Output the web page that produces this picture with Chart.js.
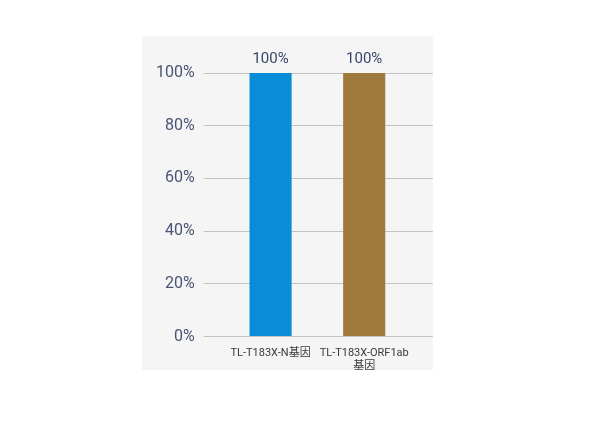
<!DOCTYPE html>
<html>
<head>
<meta charset="utf-8">
<script src="https://cdn.jsdelivr.net/npm/chart.js@4/dist/chart.umd.min.js"></script>
<style>
  html, body { margin: 0; padding: 0; background: #fff; }
  #box {
    position: absolute; left: 142px; top: 36px;
    width: 291px; height: 334px;
    overflow: hidden; background: #f5f5f5;
  }
  #chart { position: absolute; left: 0; top: 0; }
</style>
</head>
<body>
<div id="box"><canvas id="chart" width="309" height="347"></canvas></div>
<script>
// data
const categories = ['TL-T183X-N基因', ['TL-T183X-ORF1ab', '基因']];
const positiveRate = [100, 100];
const barColors = ['#0a8dd8', '#a07a3d'];
const yTicks = [0, 20, 40, 60, 80, 100];

const font = "Roboto, 'Noto Sans CJK SC', sans-serif";
const gridColor = '#c4c4c4';

// value labels above each bar
const valueLabels = {
  id: 'valueLabels',
  afterDatasetsDraw(chart) {
    const ctx = chart.ctx;
    const meta = chart.getDatasetMeta(0);
    ctx.save();
    ctx.font = '15px ' + font;
    ctx.fillStyle = '#38466a';
    ctx.textAlign = 'center';
    ctx.textBaseline = 'alphabetic';
    meta.data.forEach((bar, i) => {
      ctx.fillText(positiveRate[i] + '%', bar.x, bar.y - 10);
    });
    ctx.restore();
  }
};

new Chart(document.getElementById('chart').getContext('2d'), {
  type: 'bar',
  data: {
    labels: categories,
    datasets: [{
      data: positiveRate,
      backgroundColor: barColors,
      borderWidth: 0,
      barPercentage: 0.45,
      categoryPercentage: 1
    }]
  },
  options: {
    responsive: false,
    animation: false,
    layout: { padding: { left: 6, top: 37, right: 0, bottom: 0 } },
    plugins: { legend: { display: false }, tooltip: { enabled: false } },
    scales: {
      x: {
        grid: { display: false, drawTicks: false },
        border: { display: false },
        ticks: {
          color: '#3a3a3a', padding: 10, autoSkip: false, maxRotation: 0,
          font: { size: 11, family: font }
        }
      },
      y: {
        min: 0, max: 100,
        afterBuildTicks: (axis) => { axis.ticks = yTicks.map(v => ({ value: v })); },
        grid: { color: gridColor, tickColor: gridColor, tickLength: 20 },
        border: { display: false },
        ticks: {
          color: '#4a5474', padding: 9,
          font: { size: 16, family: font },
          callback: (v) => v + '%'
        }
      },
      y2: {
        position: 'right',
        min: 0, max: 100,
        afterBuildTicks: (axis) => { axis.ticks = yTicks.map(v => ({ value: v })); },
        grid: { drawOnChartArea: false, color: gridColor, tickColor: gridColor, tickLength: 40 },
        border: { display: false },
        ticks: { display: false }
      }
    }
  },
  plugins: [valueLabels]
});
</script>
</body>
</html>
